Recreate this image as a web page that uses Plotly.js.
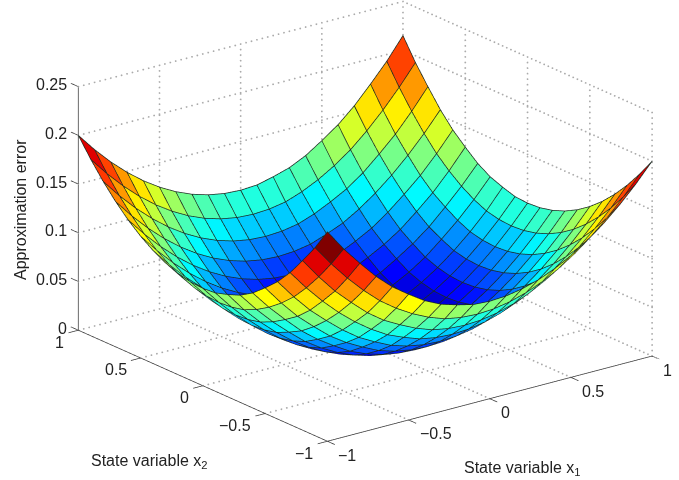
<!DOCTYPE html>
<html><head><meta charset="utf-8">
<script src="https://cdn.plot.ly/plotly-3.0.1.min.js"></script>
<style>html,body{margin:0;padding:0;background:#fff}#c{width:679px;height:480px}</style></head>
<body><div id="c"></div>
<script>
var x1Values=[-1,-0.9,-0.8,-0.7,-0.6,-0.5,-0.4,-0.3,-0.2,-0.1,0,0.1,0.2,0.3,0.4,0.5,0.6,0.7,0.8,0.9,1];
var x2Values=[-1,-0.9,-0.8,-0.7,-0.6,-0.5,-0.4,-0.3,-0.2,-0.1,0,0.1,0.2,0.3,0.4,0.5,0.6,0.7,0.8,0.9,1];
var errorZ=[
[.215,.193,.174,.156,.141,.129,.118,.110,.105,.101,.100,.101,.104,.109,.116,.125,.136,.149,.164,.181,.200],
[.193,.172,.153,.136,.121,.109,.099,.091,.085,.082,.081,.082,.085,.090,.097,.106,.117,.130,.145,.162,.181],
[.174,.153,.134,.118,.103,.091,.082,.074,.068,.065,.064,.065,.068,.073,.080,.089,.100,.113,.128,.145,.164],
[.156,.136,.118,.102,.088,.076,.066,.059,.053,.050,.049,.050,.053,.058,.065,.074,.085,.098,.113,.130,.149],
[.141,.121,.103,.088,.074,.062,.053,.045,.040,.037,.036,.037,.040,.045,.052,.061,.072,.085,.100,.117,.136],
[.129,.109,.091,.076,.062,.051,.042,.034,.029,.026,.025,.026,.029,.034,.041,.050,.061,.074,.089,.106,.125],
[.118,.099,.082,.066,.053,.042,.032,.025,.020,.017,.016,.017,.020,.025,.032,.041,.052,.065,.080,.097,.116],
[.110,.091,.074,.059,.045,.034,.025,.018,.013,.010,.009,.010,.013,.018,.025,.034,.045,.058,.073,.090,.109],
[.105,.085,.068,.053,.040,.029,.020,.013,.008,.005,.004,.005,.008,.013,.020,.029,.040,.053,.068,.085,.104],
[.101,.082,.065,.050,.037,.026,.017,.010,.005,.002,.001,.002,.005,.010,.017,.026,.037,.050,.065,.082,.101],
[.100,.081,.064,.049,.036,.025,.016,.009,.004,.001,.000,.001,.004,.009,.016,.025,.036,.049,.064,.081,.100],
[.101,.082,.065,.050,.037,.026,.017,.010,.005,.002,.001,.002,.005,.010,.017,.026,.037,.050,.065,.082,.101],
[.104,.085,.068,.053,.040,.029,.020,.013,.008,.005,.004,.005,.008,.013,.020,.029,.040,.053,.068,.085,.105],
[.109,.090,.073,.058,.045,.034,.025,.018,.013,.010,.009,.010,.013,.018,.025,.034,.045,.059,.074,.091,.110],
[.116,.097,.080,.065,.052,.041,.032,.025,.020,.017,.016,.017,.020,.025,.032,.042,.053,.066,.082,.099,.118],
[.125,.106,.089,.074,.061,.050,.041,.034,.029,.026,.025,.026,.029,.034,.042,.051,.062,.076,.091,.109,.129],
[.136,.117,.100,.085,.072,.061,.052,.045,.040,.037,.036,.037,.040,.045,.053,.062,.074,.088,.103,.121,.141],
[.149,.130,.113,.098,.085,.074,.065,.058,.053,.050,.049,.050,.053,.059,.066,.076,.088,.102,.118,.136,.156],
[.164,.145,.128,.113,.100,.089,.080,.073,.068,.065,.064,.065,.068,.074,.082,.091,.103,.118,.134,.153,.174],
[.181,.162,.145,.130,.117,.106,.097,.090,.085,.082,.081,.082,.085,.091,.099,.109,.121,.136,.153,.172,.193],
[.200,.181,.164,.149,.136,.125,.116,.109,.104,.101,.100,.101,.105,.110,.118,.129,.141,.156,.174,.193,.215]
];
var cellColorZ=[
[.200,.181,.164,.149,.136,.125,.116,.109,.104,.101,.100,.101,.104,.109,.116,.125,.136,.149,.164,.181,.200],
[.181,.162,.145,.130,.117,.106,.097,.090,.085,.082,.081,.082,.085,.090,.097,.106,.117,.130,.145,.162,.181],
[.164,.145,.128,.113,.100,.089,.080,.073,.068,.065,.064,.065,.068,.073,.080,.089,.100,.113,.128,.145,.164],
[.149,.130,.113,.098,.085,.074,.065,.058,.053,.050,.049,.050,.053,.058,.065,.074,.085,.098,.113,.130,.149],
[.136,.117,.100,.085,.072,.061,.052,.045,.040,.037,.036,.037,.040,.045,.052,.061,.072,.085,.100,.117,.136],
[.125,.106,.089,.074,.061,.050,.041,.034,.029,.026,.025,.026,.029,.034,.041,.050,.061,.074,.089,.106,.125],
[.116,.097,.080,.065,.052,.041,.032,.025,.020,.017,.016,.017,.020,.025,.032,.041,.052,.065,.080,.097,.116],
[.109,.090,.073,.058,.045,.034,.025,.018,.013,.010,.009,.010,.013,.018,.025,.034,.045,.058,.073,.090,.109],
[.104,.085,.068,.053,.040,.029,.020,.013,.008,.005,.004,.005,.008,.013,.020,.029,.040,.053,.068,.085,.104],
[.101,.082,.065,.050,.037,.026,.017,.010,.005,.002,.001,.002,.005,.010,.017,.026,.037,.050,.065,.082,.101],
[.100,.081,.064,.049,.036,.025,.016,.009,.004,.001,.000,.001,.004,.009,.016,.025,.036,.049,.064,.081,.100],
[.101,.082,.065,.050,.037,.026,.017,.010,.005,.002,.001,.002,.005,.010,.017,.026,.037,.050,.065,.082,.101],
[.104,.085,.068,.053,.040,.029,.020,.013,.008,.005,.004,.005,.008,.013,.020,.029,.040,.053,.068,.085,.104],
[.109,.090,.073,.058,.045,.034,.025,.018,.013,.010,.009,.010,.013,.018,.025,.034,.045,.058,.073,.090,.109],
[.116,.097,.080,.065,.052,.041,.032,.025,.020,.017,.016,.017,.020,.025,.032,.041,.052,.065,.080,.097,.116],
[.125,.106,.089,.074,.061,.050,.041,.034,.029,.026,.025,.026,.029,.034,.041,.050,.061,.074,.089,.106,.125],
[.136,.117,.100,.085,.072,.061,.052,.045,.040,.037,.036,.037,.040,.045,.052,.061,.072,.085,.100,.117,.136],
[.149,.130,.113,.098,.085,.074,.065,.058,.053,.050,.049,.050,.053,.058,.065,.074,.085,.098,.113,.130,.149],
[.164,.145,.128,.113,.100,.089,.080,.073,.068,.065,.064,.065,.068,.073,.080,.089,.100,.113,.128,.145,.164],
[.181,.162,.145,.130,.117,.106,.097,.090,.085,.082,.081,.082,.085,.090,.097,.106,.117,.130,.145,.162,.181],
[.200,.181,.164,.149,.136,.125,.116,.109,.104,.101,.100,.101,.104,.109,.116,.125,.136,.149,.164,.181,.200]
];
var gridTicks=[-1,-0.5,0,0.5,1];
var gridTickLabels=['\u22121','\u22120.5','0','0.5','1'];
var zTicks=[0,0.05,0.1,0.15,0.2,0.25];
var zTickLabels=['0','0.05','0.1','0.15','0.2','0.25'];
var zMax=0.25, colorMax=0.2;
var viewDir={x:-0.572,y:-0.7455,z:0.342};
var zoomK=1.705, zAspect=1.08;
var xRange=[-1.1,1], yRange=[-1.1,1.1];
var cen={x:-0.0581+0.05*(zoomK-1.723)/2,y:0.0441,z:-0.0730};
var liftE=0.012, tickL=0.06;

function jet(v){
  function c(t){t=Math.max(0,Math.min(1,t));return Math.round(t*255);}
  var r=Math.min(4*v-1.5,-4*v+4.5),g=Math.min(4*v-0.5,-4*v+3.5),b=Math.min(4*v+0.5,-4*v+2.5);
  return 'rgb('+c(r)+','+c(g)+','+c(b)+')';
}
var mx=[],my=[],mz=[],I=[],J=[],K=[],fc=[];
var n=x2Values.length,m=x1Values.length;
for(var r=0;r<n;r++)for(var q=0;q<m;q++){mx.push(x1Values[q]);my.push(x2Values[r]);mz.push(errorZ[r][q]);}
for(r=0;r<n-1;r++)for(q=0;q<m-1;q++){
  var a=r*m+q,b=a+1,d=a+m,e=d+1,col=jet(cellColorZ[r][q]/colorMax);
  I.push(a,a);J.push(b,e);K.push(e,d);fc.push(col,col);
}
// mesh lines pulled a hair toward the eye so the depth test keeps them on top of the faces
var ox=liftE*viewDir.x*2/zoomK, oy=liftE*viewDir.y*2/zoomK, oz=liftE*viewDir.z*zMax/zAspect;
var lx=[],ly=[],lz=[];
function lp(q,r){lx.push(x1Values[q]+ox);ly.push(x2Values[r]+oy);lz.push(errorZ[r][q]+oz);}
for(r=0;r<n;r++){for(q=0;q<m;q++)lp(q,r);lx.push(null);ly.push(null);lz.push(null);}
for(q=0;q<m;q++){for(r=0;r<n;r++)lp(q,r);lx.push(null);ly.push(null);lz.push(null);}
var gx=[],gy=[],gz=[];
function dots(a,b,c,d,e,f){var N=Math.round(Math.sqrt((d-a)*(d-a)+(e-b)*(e-b))/2*60+Math.abs(f-c)*4*44);for(var t=0;t<=N;t++){var u=t/N;gx.push(a+(d-a)*u);gy.push(b+(e-b)*u);gz.push(c+(f-c)*u);}}
gridTicks.forEach(function(t){
  if(t>-1){dots(t,-1,0,t,1,0);dots(-1,t,0,1,t,0);}
  if(t>-1)dots(t,1,0,t,1,zMax);
  dots(1,t,0,1,t,zMax);
});
zTicks.forEach(function(t){dots(-1,1,t,1,1,t);dots(1,1,t,1,-1,t);});
var bx=[],by=[],bz=[],vx=[],vy=[],vz=[];
function seg(a,b,c,d,e,f){bx.push(a,d,null);by.push(b,e,null);bz.push(c,f,null);}
seg(-1,-1,0,1,-1,0);seg(-1,-1,0,-1,1,0);
gridTicks.forEach(function(t){seg(t,-1,0,t,-1-tickL,0);seg(-1,t,0,-1-tickL,t,0);});
zTicks.forEach(function(t){seg(-1,1,t,-1,1+tickL,t);});
vx.push(-1,-1);vy.push(1,1);vz.push(0,zMax);
var traces=[
 {type:'scatter3d',mode:'markers',x:gx,y:gy,z:gz,marker:{color:'#ababab',size:1.05,line:{width:0}},hoverinfo:'skip',showlegend:false},
 {type:'mesh3d',x:mx,y:my,z:mz,i:I,j:J,k:K,facecolor:fc,flatshading:true,
  lighting:{ambient:1,diffuse:0,specular:0,fresnel:0,roughness:1},hoverinfo:'skip',showscale:false},
 {type:'scatter3d',mode:'lines',x:lx,y:ly,z:lz,line:{color:'#1c2a22',width:1.5},hoverinfo:'skip',showlegend:false},
 {type:'scatter3d',mode:'lines',x:bx,y:by,z:bz,line:{color:'#3a3a3a',width:1.5},hoverinfo:'skip',showlegend:false},
 {type:'scatter3d',mode:'lines',x:vx,y:vy,z:vz,line:{color:'#6a6a6a',width:2},hoverinfo:'skip',showlegend:false}
];
function ax(range,dtick){return {range:range,dtick:dtick,tick0:0,title:{text:''},showgrid:false,zeroline:false,showbackground:false,showspikes:false,
  showline:false,ticks:'',showticklabels:false};}
var tf={family:'Liberation Sans',size:16,color:'#222'};
var sceneAnn=[];
zTicks.forEach(function(t,i){sceneAnn.push({x:-1,y:1,z:t,text:zTickLabels[i],showarrow:false,xanchor:'right',yanchor:'middle',xshift:-9,yshift:2,font:tf});});
gridTicks.forEach(function(t,i){sceneAnn.push({x:-1,y:t,z:0,text:gridTickLabels[i],showarrow:false,xanchor:'right',yanchor:'middle',xshift:-12,yshift:-12,font:tf});});
gridTicks.forEach(function(t,i){sceneAnn.push({x:t,y:-1,z:0,text:gridTickLabels[i],showarrow:false,xanchor:'left',yanchor:'middle',xshift:9,yshift:-14,font:tf});});
var s=3;
var layout={width:679,height:480,margin:{l:0,r:0,t:0,b:0},paper_bgcolor:'#fff',showlegend:false,hovermode:false,
 font:{family:'Liberation Sans',color:'#222'},
 scene:{domain:{x:[0,1],y:[0,1]},
  xaxis:ax(xRange,0.5),yaxis:ax(yRange,0.5),zaxis:ax([0,zMax],0.05),
  aspectmode:'manual',aspectratio:{x:zoomK*(xRange[1]-xRange[0])/2,y:zoomK*(yRange[1]-yRange[0])/2,z:zAspect},annotations:sceneAnn,
  camera:{projection:{type:'orthographic'},eye:{x:cen.x+viewDir.x*s,y:cen.y+viewDir.y*s,z:cen.z+viewDir.z*s},up:{x:0,y:0,z:1},center:cen}},
 annotations:[
  {xref:'paper',yref:'paper',xanchor:'center',yanchor:'middle',x:149.5/679,y:1-461/480,text:'State variable x<sub>2</sub>',showarrow:false,font:{size:16,family:'Liberation Sans',color:'#222'}},
  {xref:'paper',yref:'paper',xanchor:'center',yanchor:'middle',x:522/679,y:1-468/480,text:'State variable x<sub>1</sub>',showarrow:false,font:{size:16,family:'Liberation Sans',color:'#222'}},
  {xref:'paper',yref:'paper',xanchor:'center',yanchor:'middle',x:20/679,y:1-210/480,text:'Approximation error',textangle:-90,showarrow:false,font:{size:16,family:'Liberation Sans',color:'#222'}}
 ]};
Plotly.newPlot('c',traces,layout,{displayModeBar:false});
</script></body></html>
